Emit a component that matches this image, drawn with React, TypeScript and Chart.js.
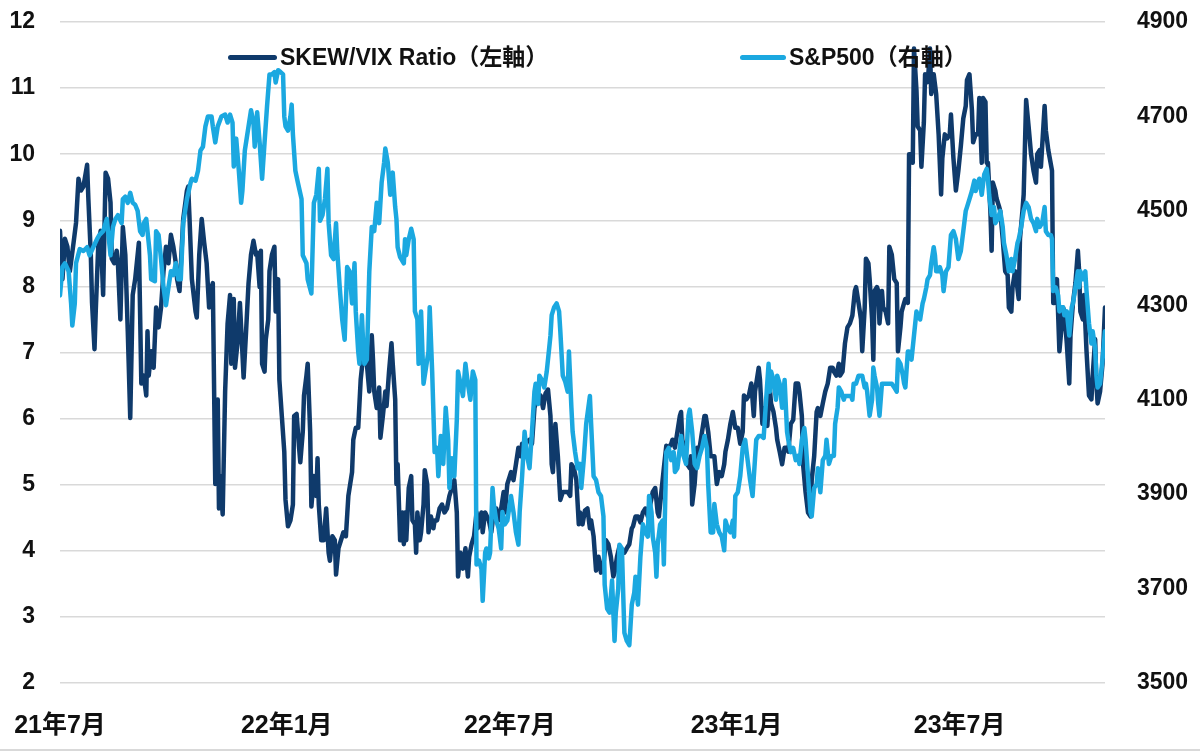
import { useEffect, useRef } from "react";
import { Chart, registerables } from "chart.js";

Chart.register(...registerables);

const tickDays = [0, 184, 365, 549, 730];
const tickLabels = ["21年7月", "22年1月", "22年7月", "23年1月", "23年7月"];

const skewDays = [
  0, 2, 4, 6, 8, 11, 13, 15, 17, 19, 22, 23, 25, 26, 28, 29, 31, 33, 35, 37, 39, 41, 42, 44, 46, 47, 49, 50, 51, 53, 55, 57, 59, 61, 64, 66, 68, 70, 71, 72, 74, 76, 78, 80, 82, 84, 86, 88, 90, 92, 94, 95, 97, 100, 103, 104, 105, 107, 110, 111, 113, 115, 117, 119, 121, 123, 124, 126, 128, 129, 130, 132, 134, 136,
  138, 139, 141, 142, 144, 146, 147, 149, 151, 153, 155, 157, 159, 160, 162, 163, 164, 166, 167, 169, 170, 172, 174, 175, 177, 178, 180, 182, 183, 185, 187, 189, 190, 192, 194, 195, 197, 198, 200, 201, 203, 204, 206, 208, 209, 210, 212, 214, 216, 218, 219, 221, 223, 224, 226, 228, 230, 232, 234, 237, 238, 240, 242, 244, 245, 247, 249, 251, 253, 254, 255, 257, 259, 260, 262, 264, 265, 267, 269, 270, 272, 273, 274, 276, 278, 279,
  280, 281, 283, 285, 286, 288, 289, 290, 292, 293, 295, 296, 298, 299, 301, 303, 304, 306, 308, 310, 312, 314, 316, 318, 320, 322, 323, 325, 327, 329, 331, 332, 334, 336, 338, 339, 342, 343, 345, 348, 350, 352, 354, 356, 358, 360, 361, 363, 365, 366, 368, 370, 372, 374, 375, 377, 379, 381, 383, 385, 386, 388, 390, 392, 394, 396, 398, 399, 400, 402, 404, 406, 408, 410, 412, 414, 415, 417, 419, 421,
  422, 424, 426, 428, 430, 431, 433, 435, 437, 439, 441, 443, 445, 447, 449, 450, 452, 454, 457, 458, 460, 462, 464, 465, 467, 469, 471, 473, 475, 477, 479, 481, 483, 485, 486, 488, 490, 492, 494, 496, 497, 499, 501, 503, 504, 505, 507, 509, 511, 512, 513, 515, 517, 518, 521, 523, 524, 526, 528, 530, 531, 533, 535, 537, 539, 540, 542, 544, 546, 548, 550, 552, 554, 555, 557, 559, 561, 563,
  564, 565, 567, 568, 570, 572, 574, 576, 577, 579, 581, 582, 584, 586, 588, 590, 591, 593, 595, 597, 599, 600, 602, 603, 605, 607, 609, 610, 612, 614, 615, 617, 619, 621, 623, 625, 627, 628, 630, 632, 633, 635, 637, 639, 641, 643, 645, 646, 648, 650, 651, 653, 654, 656, 657, 659, 660, 661, 663, 664, 665, 667, 668, 670, 672, 673, 675, 677, 679, 680, 682, 683, 685, 686, 688, 689, 691, 692, 693, 695, 696, 698, 699, 701, 702, 704, 705,
  706, 707, 709, 711, 713, 715, 716, 718, 720, 722, 723, 725, 727, 729, 731, 733, 735, 736, 738, 740, 741, 743, 745, 746, 748, 749, 751, 752, 753, 755, 756, 757, 759, 760, 762, 763, 765, 767, 769, 770, 772, 773, 775, 776, 778, 779, 781, 782, 784, 786, 788, 790, 792, 793, 795, 796, 798, 799, 800, 802, 805, 806, 807, 809, 810, 811, 813, 814, 815, 817, 819, 820, 822, 824, 826, 827, 828, 830, 831, 833, 835, 837, 838, 840, 841, 842, 844, 846, 848,
];
const skewValues = [
  8.84, 8.11, 8.72, 8.6, 8.23, 8.66, 8.96, 9.63, 9.45, 9.51, 9.84, 9.33, 8.48, 7.75, 7.05, 7.62, 8.6, 8.84, 7.87, 9.72, 9.63, 9.27, 8.42, 8.35, 8.54, 8.35, 7.5, 8.23, 8.9, 8.48, 7.32, 6.01, 7.87, 8.11, 8.66, 6.53, 6.65, 6.35, 7.32, 6.65, 7.02, 6.77, 7.68, 7.38, 7.68, 8.23, 8.6, 8.35, 8.78, 8.6, 8.35, 8.11, 7.93, 9.02, 9.45, 9.51, 9.08, 8.11, 7.62, 7.53, 8.48, 9.02, 8.66, 8.35, 7.68, 7.99, 8.05, 5.01, 6.29, 4.64, 5.13, 4.55, 6.41, 7.44,
  7.87, 6.83, 7.81, 6.77, 7.14, 7.75, 7.38, 6.62, 7.32, 8.05, 8.48, 8.69, 8.48, 8.51, 7.99, 8.54, 6.83, 6.71, 7.2, 7.5, 8.23, 8.48, 8.6, 7.62, 8.11, 6.59, 6.04, 5.5, 4.77, 4.37, 4.46, 4.7, 6.04, 6.07, 5.56, 5.34, 5.8, 6.35, 6.65, 6.83, 5.8, 4.67, 5.13, 4.83, 5.4, 4.7, 4.16, 4.16, 4.64, 3.97, 3.85, 4.22, 4.16, 3.64, 4.04, 4.16, 4.28, 4.22, 4.83, 5.19, 5.68, 5.86, 5.86, 6.59, 6.77, 7.02, 6.83, 6.41, 7.26, 6.89, 6.41, 6.16, 6.47, 5.71, 6.04, 6.41, 6.19, 6.71, 7.14, 6.83, 6.29, 5.01, 5.31, 4.16, 4.58, 4.1,
  4.58, 4.16, 4.95, 5.13, 4.46, 4.4, 3.97, 4.58, 4.16, 4.28, 4.7, 5.22, 5.01, 4.28, 4.52, 4.34, 4.46, 4.46, 4.64, 4.7, 4.58, 4.64, 4.83, 4.95, 5.07, 4.58, 3.61, 3.97, 3.73, 4.04, 3.61, 3.91, 4.1, 4.22, 4.58, 4.34, 4.58, 4.28, 4.58, 4.46, 4.28, 4.58, 4.64, 4.46, 4.64, 4.89, 4.58, 5.01, 5.13, 5.19, 5.07, 5.31, 5.56, 5.43, 5.62, 5.56, 5.65, 5.68, 5.62, 6.16, 6.23, 6.23, 6.35, 6.16, 6.38, 6.44, 6.04, 5.31, 5.19, 5.92, 5.43, 4.77, 4.89, 4.89, 4.89, 4.83, 5.31, 5.25, 5.07, 4.4,
  4.58, 4.4, 4.61, 4.64, 4.34, 4.46, 4.22, 3.7, 3.91, 3.67, 3.79, 4.16, 4.1, 3.91, 3.61, 3.67, 3.91, 4.07, 3.97, 3.97, 4.04, 4.1, 4.34, 4.37, 4.52, 4.52, 4.43, 4.58, 4.64, 4.52, 4.7, 4.89, 4.95, 4.58, 4.52, 4.89, 5.25, 5.59, 5.56, 5.62, 5.68, 5.56, 5.8, 6.04, 6.1, 5.68, 5.5, 5.31, 5.25, 5.43, 4.7, 5.01, 5.56, 5.43, 5.8, 6.04, 6.04, 5.8, 5.43, 5.43, 5.43, 5.01, 5.19, 5.13, 5.31, 5.5, 5.68, 5.92, 6.1, 5.86, 5.86, 5.62, 5.8, 6.35, 6.29, 6.35, 6.53, 6.04,
  6.41, 6.53, 6.77, 6.59, 5.92, 6.16, 5.89, 6.47, 6.23, 6.1, 5.86, 5.68, 5.5, 5.31, 5.56, 5.56, 5.5, 5.92, 5.98, 6.53, 6.53, 6.41, 6.04, 5.31, 4.89, 4.58, 4.52, 5.07, 5.43, 6.1, 6.16, 6.04, 6.23, 6.41, 6.53, 6.77, 6.77, 6.71, 6.65, 6.83, 6.65, 6.71, 7.14, 7.38, 7.44, 7.56, 7.93, 7.99, 7.75, 7.5, 7.02, 7.68, 8.42, 8.35, 8.11, 7.5, 6.89, 7.93, 7.99, 7.93, 7.44, 7.93, 7.68, 7.62, 7.44, 8.6, 8.48, 8.11, 8.05, 7.02, 7.38, 7.62, 7.75, 7.81, 7.75, 10.0, 10.0, 9.87, 11.6, 10.97, 10.42, 10.36, 9.81, 10.48, 11.21, 11.09, 11.3,
  11.6, 10.91, 11.21, 10.91, 10.3, 9.39, 9.94, 10.3, 10.24, 10.3, 10.6, 9.94, 9.45, 9.75, 10.12, 10.54, 10.73, 11.12, 11.21, 10.67, 10.18, 10.3, 10.3, 10.85, 9.87, 10.85, 10.79, 9.87, 9.87, 9.14, 8.54, 9.57, 9.45, 9.33, 9.21, 9.14, 8.72, 8.23, 8.17, 7.68, 7.62, 7.99, 8.23, 8.11, 7.81, 8.72, 9.14, 9.39, 10.82, 10.42, 10.0, 9.75, 9.57, 10.0, 10.06, 9.81, 10.42, 10.73, 10.36, 10.06, 9.75, 7.75, 7.75, 8.11, 7.56, 7.02, 7.44, 7.68, 7.62, 7.14, 6.53, 7.26, 7.75, 8.05, 8.54, 8.23, 7.62, 7.5, 7.87, 7.02, 6.35, 6.29, 6.65, 7.2, 6.53, 6.23, 6.41, 6.83, 7.68,
];

const spDays = [
  0, 2, 4, 7, 9, 10, 12, 13, 16, 19, 22, 24, 27, 30, 32, 35, 38, 39, 41, 43, 45, 47, 50, 51, 53, 55, 57, 59, 61, 63, 65, 67, 68, 70, 73, 74, 77, 78, 80, 82, 84, 86, 88, 90, 92, 94, 96, 98, 100, 103, 106, 107, 110, 112, 114, 116, 118, 120, 123, 124, 126, 128, 131, 134, 136,
  138, 140, 141, 143, 145, 147, 148, 150, 153, 155, 157, 158, 160, 162, 164, 166, 168, 170, 172, 174, 175, 177, 179, 181, 182, 183, 185, 187, 188, 189, 191, 193, 196, 197, 200, 201, 204, 206, 208, 210, 211, 213, 215, 217, 218, 220, 222, 224, 225, 227, 229, 231, 233, 235, 237, 239, 240, 242, 243, 245, 246, 247, 249, 251, 253, 255, 257, 259, 261, 263, 264, 266, 268, 270, 272, 273, 274, 276, 279,
  280, 281, 283, 285, 287, 288, 290, 291, 293, 295, 297, 299, 300, 302, 304, 306, 307, 309, 311, 313, 315, 316, 318, 320, 322, 323, 325, 327, 329, 331, 333, 335, 337, 338, 340, 342, 343, 345, 346, 348, 349, 351, 352, 354, 356, 358, 359, 361, 363, 365, 366, 368, 370, 372, 373, 375, 377, 379, 381, 383, 385, 386, 388, 389, 391, 393, 395, 397, 398, 399, 401, 403, 405, 406, 408, 410, 412, 413, 415, 416, 418, 420,
  422, 423, 425, 427, 430, 431, 433, 435, 437, 439, 441, 442, 444, 446, 448, 450, 451, 453, 454, 456, 457, 458, 460, 462, 464, 466, 467, 469, 471, 473, 475, 477, 478, 480, 481, 483, 484, 485, 487, 489, 490, 492, 494, 496, 498, 499, 501, 503, 504, 506, 508, 510, 511, 513, 515, 517, 519, 521, 523, 525, 526, 528, 530, 531, 533, 535, 537, 539, 540, 542, 544, 546, 547, 548, 550, 552, 554, 556, 558, 560, 562,
  565, 567, 569, 571, 573, 575, 576, 577, 579, 581, 582, 584, 586, 588, 590, 591, 593, 595, 597, 599, 600, 602, 604, 605, 607, 609, 610, 612, 614, 615, 617, 619, 621, 622, 624, 626, 628, 629, 631, 632, 634, 636, 637, 640, 642, 643, 644, 646, 648, 650, 651, 653, 654, 655, 657, 659, 660, 661, 663, 664, 665, 667, 668, 670, 672, 673, 675, 677, 679, 680, 682, 684, 685, 686, 688, 689, 691, 693, 695, 696, 698, 700, 701, 703, 704,
  706, 707, 709, 710, 711, 713, 714, 716, 717, 719, 721, 723, 725, 727, 729, 731, 733, 735, 736, 738, 740, 742, 743, 745, 746, 748, 750, 752, 753, 754, 756, 758, 759, 761, 763, 765, 766, 768, 770, 772, 773, 775, 777, 778, 780, 782, 784, 786, 788, 790, 792, 793, 795, 797, 799, 800, 802, 804, 805, 806, 808, 810, 811, 813, 814, 815, 817, 819, 821, 822, 824, 826, 827, 828, 830, 832, 833, 835, 837, 838, 840, 841, 842, 844, 846, 848,
];
const spValues = [
  4321, 4381, 4389, 4372, 4304, 4257, 4304, 4389, 4419, 4415, 4423, 4406, 4423, 4440, 4449, 4457, 4483, 4457, 4406, 4466, 4483, 4491, 4474, 4525, 4530, 4517, 4538, 4517, 4513, 4500, 4457, 4449, 4474, 4483, 4406, 4355, 4351, 4457, 4449, 4398, 4338, 4300, 4338, 4372, 4364, 4389, 4355, 4355, 4474, 4525, 4560, 4568, 4564, 4585, 4628, 4636, 4679, 4700, 4700, 4679, 4645, 4679, 4700, 4704, 4687,
  4704, 4687, 4594, 4653, 4589, 4517, 4542, 4628, 4679, 4713, 4687, 4636, 4709, 4645, 4568, 4645, 4721, 4789, 4789, 4794, 4772, 4798, 4794, 4789, 4700, 4679, 4670, 4700, 4725, 4662, 4585, 4560, 4525, 4406, 4389, 4355, 4325, 4517, 4534, 4589, 4479, 4491, 4525, 4589, 4474, 4406, 4398, 4474, 4415, 4338, 4270, 4227, 4381, 4372, 4304, 4389, 4287, 4202, 4176, 4279, 4219, 4176, 4185, 4372, 4466, 4457, 4517, 4474, 4560, 4602, 4632, 4602, 4534, 4581, 4508, 4483, 4423, 4402, 4389,
  4440, 4406, 4440, 4462, 4440, 4287, 4270, 4176, 4287, 4134, 4168, 4202, 4296, 4160, 3989, 3998, 3938, 4023, 3964, 4083, 4015, 3913, 3976, 3938, 4057, 4160, 4134, 4108, 4176, 4134, 4100, 4160, 4142, 3751, 3759, 3742, 3674, 3776, 3785, 3764, 3776, 3913, 3879, 3844, 3827, 3785, 3862, 3836, 3844, 3879, 3896, 3862, 3819, 3793, 3862, 3938, 4032, 3981, 3955, 4032, 4117, 4134, 4091, 4151, 4142, 4126, 4160, 4210, 4236, 4279, 4296, 4304, 4287, 4245, 4151, 4138, 4117, 4202, 4083, 4032, 3989, 3955,
  3964, 3913, 3972, 4049, 4108, 4049, 3938, 3930, 3904, 3896, 3853, 3708, 3657, 3649, 3717, 3589, 3649, 3700, 3793, 3785, 3691, 3606, 3589, 3580, 3666, 3691, 3725, 3666, 3768, 3836, 3819, 3810, 3896, 3862, 3810, 3776, 3725, 3793, 3836, 3844, 3751, 3989, 3998, 3972, 3989, 3947, 3955, 3998, 4023, 3981, 3964, 4066, 4079, 4032, 3964, 3955, 3981, 3998, 4023, 3998, 3921, 3819, 3819, 3879, 3836, 3819, 3810, 3781, 3844, 3827, 3819, 3844, 3810, 3896, 3904, 3938, 3998, 4015, 3972, 3930, 3896,
  4015, 4023, 4023, 4019, 4100, 4176, 4117, 4160, 4142, 4100, 4151, 4134, 4083, 4142, 4032, 4015, 3989, 3998, 3972, 3981, 3964, 4015, 4040, 4015, 3938, 3862, 3853, 3913, 3921, 3955, 3904, 3972, 3981, 4015, 3964, 3981, 3981, 4049, 4083, 4126, 4117, 4100, 4108, 4108, 4108, 4100, 4134, 4134, 4151, 4151, 4151, 4126, 4134, 4117, 4066, 4100, 4168, 4151, 4126, 4091, 4066, 4134, 4134, 4134, 4134, 4134, 4134, 4126, 4117, 4185, 4176, 4151, 4134, 4126, 4202, 4202, 4185, 4236, 4287, 4279, 4270, 4304, 4313, 4338, 4355,
  4364, 4389, 4423, 4406, 4372, 4372, 4381, 4364, 4330, 4372, 4381, 4449, 4457, 4440, 4398, 4415, 4457, 4500, 4508, 4525, 4542, 4564, 4542, 4560, 4568, 4534, 4577, 4589, 4568, 4534, 4491, 4508, 4474, 4483, 4500, 4466, 4432, 4406, 4372, 4398, 4372, 4398, 4432, 4440, 4466, 4500, 4517, 4508, 4483, 4474, 4457, 4483, 4466, 4474, 4508, 4457, 4449, 4449, 4440, 4330, 4338, 4321, 4287, 4296, 4296, 4279, 4287, 4236, 4296, 4304, 4338, 4372, 4338, 4372, 4355, 4372, 4330, 4262, 4219, 4245, 4210, 4151, 4126, 4134, 4185, 4245,
];

const DARK = "#0f3a6b";
const LIGHT = "#1ba8e0";
const FONT = '"Liberation Sans", Arial, "Noto Sans CJK JP", sans-serif';

export default function App() {
  const canvasRef = useRef<HTMLCanvasElement | null>(null);

  useEffect(() => {
    document.body.style.margin = "0";
    const canvas = canvasRef.current;
    if (!canvas) return;
    const chart = new Chart(canvas, {
      type: "line",
      data: {
        datasets: [
          {
            label: "SKEW/VIX Ratio（左軸）",
            data: skewDays.map((d, i) => ({ x: d, y: skewValues[i] })),
            borderColor: DARK,
            backgroundColor: DARK,
            borderWidth: 4.5,
            pointRadius: 0,
            tension: 0,
            yAxisID: "y",
            order: 2,
            borderJoinStyle: "round",
            borderCapStyle: "round",
          },
          {
            label: "S&P500（右軸）",
            data: spDays.map((d, i) => ({ x: d, y: spValues[i] })),
            borderColor: LIGHT,
            backgroundColor: LIGHT,
            borderWidth: 4.5,
            pointRadius: 0,
            tension: 0,
            yAxisID: "y1",
            order: 1,
            borderJoinStyle: "round",
            borderCapStyle: "round",
          },
        ],
      },
      options: {
        animation: false,
        responsive: false,
        layout: { padding: { top: 22, left: 0, right: 0, bottom: 0 } },
        plugins: { legend: { display: false }, tooltip: { enabled: false } },
        scales: {
          x: {
            type: "linear",
            min: 0,
            max: 848,
            grid: { display: false },
            border: { display: false },
            afterBuildTicks: (axis: any) => {
              axis.ticks = tickDays.map((v) => ({ value: v }));
            },
            afterFit: (axis: any) => {
              axis.height = 70;
              axis.paddingLeft = 0;
              axis.paddingRight = 0;
            },
            ticks: {
              autoSkip: false,
              maxRotation: 0,
              padding: 20,
              color: "#111",
              font: { family: FONT, size: 25, weight: "bold" },
              callback: (value: any) => {
                const i = tickDays.indexOf(Number(value));
                return i >= 0 ? tickLabels[i] : "";
              },
            },
          },
          y: {
            position: "left",
            min: 2,
            max: 12,
            grid: { color: "#d9d9d9", lineWidth: 1.5, drawTicks: false },
            border: { display: false },
            afterFit: (axis: any) => {
              axis.width = 60;
              axis.paddingTop = 0;
              axis.paddingBottom = 0;
            },
            ticks: {
              stepSize: 1,
              padding: 25,
              color: "#111",
              font: { family: FONT, size: 23, weight: "bold" },
            },
          },
          y1: {
            position: "right",
            min: 3500,
            max: 4900,
            grid: { display: false, drawTicks: false },
            border: { display: false },
            afterFit: (axis: any) => {
              axis.width = 95;
              axis.paddingTop = 0;
              axis.paddingBottom = 0;
            },
            ticks: {
              stepSize: 200,
              padding: 32,
              color: "#111",
              font: { family: FONT, size: 23, weight: "bold" },
              callback: (value: any) => String(value),
            },
          },
        },
      },
    });
    return () => chart.destroy();
  }, []);

  const legendText: React.CSSProperties = {
    position: "absolute",
    top: 46,
    font: `bold 23px ${FONT}`,
    lineHeight: "23px",
    color: "#111",
    whiteSpace: "nowrap",
  };

  return (
    <div style={{ position: "relative", width: 1200, height: 753, background: "#fff", overflow: "hidden" }}>
      <canvas ref={canvasRef} width={1200} height={753} style={{ width: 1200, height: 753, display: "block" }} />
      <div style={{ position: "absolute", left: 228, top: 55, width: 49, height: 5, background: DARK, borderRadius: 2.5 }} />
      <div style={{ ...legendText, left: 280 }}>SKEW/VIX Ratio（左軸）</div>
      <div style={{ position: "absolute", left: 740, top: 55, width: 46, height: 5, background: LIGHT, borderRadius: 2.5 }} />
      <div style={{ ...legendText, left: 789 }}>S&amp;P500（右軸）</div>
      <div style={{ position: "absolute", left: 0, top: 749, width: 1200, height: 2, background: "#d9d9d9" }} />
    </div>
  );
}
